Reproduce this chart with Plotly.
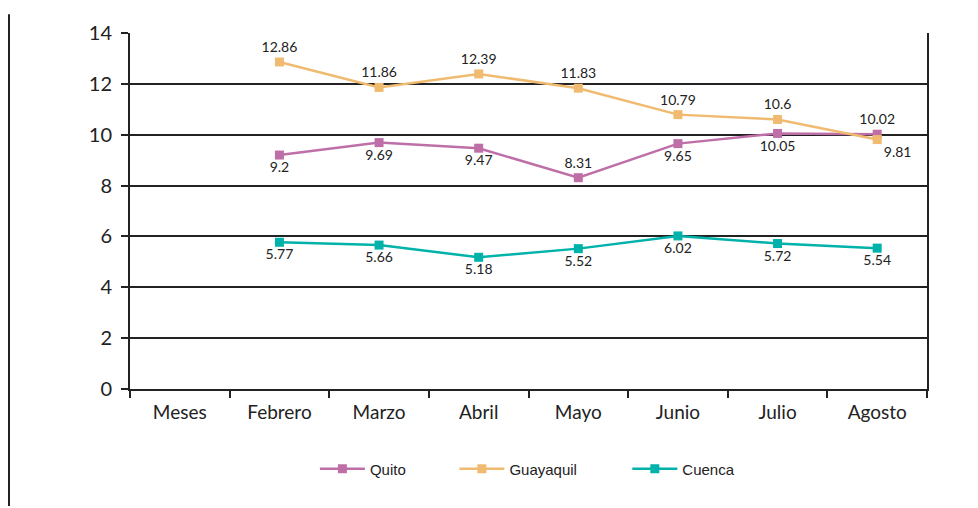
import plotly.graph_objects as go

meses = ["Meses", "Febrero", "Marzo", "Abril", "Mayo", "Junio", "Julio", "Agosto"]
quito = [None, 9.2, 9.69, 9.47, 8.31, 9.65, 10.05, 10.02]
guayaquil = [None, 12.86, 11.86, 12.39, 11.83, 10.79, 10.6, 9.81]
cuenca = [None, 5.77, 5.66, 5.18, 5.52, 6.02, 5.72, 5.54]

# posiciones de las etiquetas
pos_quito = ["bottom center", "bottom center", "bottom center", "bottom center",
             "top center", "bottom center", "bottom center", "top center"]
pos_guayaquil = ["top center"] * 7 + ["bottom right"]
pos_cuenca = ["bottom center"] * 8

label_font = dict(family="Lato, sans-serif", size=14, color="#222")
legend_font = dict(family="Liberation Sans, Arial", size=15, color="#222")

fig = go.Figure()
for nombre, valores, color, pos, leg in [
    ("Quito", quito, "#bf6fa8", pos_quito, "legend"),
    ("Guayaquil", guayaquil, "#f0bb70", pos_guayaquil, "legend2"),
    ("Cuenca", cuenca, "#00b2a9", pos_cuenca, "legend3"),
]:
    fig.add_trace(go.Scatter(
        x=meses, y=valores, name=nombre, legend=leg,
        mode="lines+markers+text",
        line=dict(color=color, width=2.5),
        marker=dict(symbol="square", size=9, color=color),
        text=[None if v is None else str(v) for v in valores],
        textposition=pos,
        textfont=label_font,
        cliponaxis=False,
    ))

def leyenda(x):
    return dict(orientation="h", x=x, xanchor="left", y=-0.225, yanchor="middle",
                font=legend_font, itemwidth=45, bgcolor="rgba(0,0,0,0)")

fig.update_layout(
    width=970, height=500,
    margin=dict(l=122, r=51, t=19, b=119),
    plot_bgcolor="white", paper_bgcolor="white",
    showlegend=True,
    legend=leyenda(0.232),
    legend2=leyenda(0.407),
    legend3=leyenda(0.624),
    xaxis=dict(type="category", range=[-0.5, 7.5], showgrid=False,
               showline=True, linecolor="#222", linewidth=2,
               ticks="outside", tickson="boundaries", ticklen=7, tickwidth=2, tickcolor="#222",
               ticklabelstandoff=5,
               tickfont=dict(family="Lato, sans-serif", size=19, color="#222")),
    yaxis=dict(range=[0, 14], dtick=2, showgrid=True, gridcolor="#222", gridwidth=2,
               showline=True, linecolor="#222", linewidth=2, mirror=True,
               ticks="outside", ticklen=7, tickwidth=2, tickcolor="#222",
               zeroline=False, ticklabelstandoff=5,
               tickfont=dict(family="Lato, sans-serif", size=20, color="#222")),
)

# línea del borde izquierdo
fig.add_shape(type="line", xref="paper", yref="paper",
              x0=-121 / 797, x1=-121 / 797, y0=-119 / 362, y1=1 + 19 / 362,
              line=dict(color="#222", width=2))

fig.write_html("out.html")
